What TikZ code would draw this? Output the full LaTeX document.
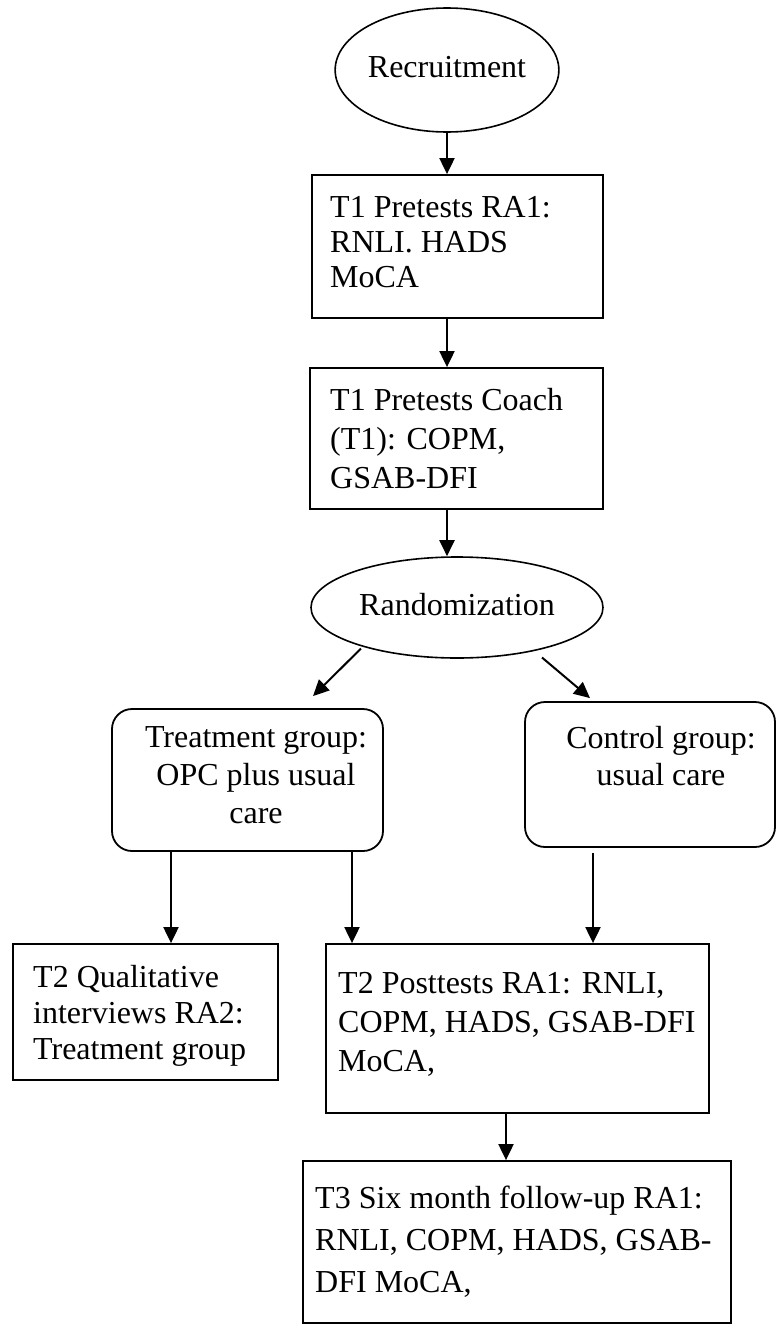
\documentclass[tikz,border=0pt]{standalone}
\usepackage{fontspec}
\setmainfont{Liberation Serif}
\usetikzlibrary{arrows.meta,shapes.geometric,calc}
\newcommand\LL[2]{\vtop{\baselineskip=#1pt\lineskip=0pt\lineskiplimit=-100pt\halign{##\hfil\cr#2\crcr}}}
\newcommand\CC[2]{\vtop{\baselineskip=#1pt\lineskip=0pt\lineskiplimit=-100pt\halign{\hfil##\hfil\cr#2\crcr}}}
\begin{document}
\begin{tikzpicture}[x=1pt,y=-1pt,
  font=\fontsize{32}{38}\selectfont,
  box/.style={draw, line width=1.8pt, rectangle, inner sep=0pt},
  rbox/.style={box, rounded corners=20pt},
  oval/.style={draw, ellipse, line width=1.6pt, inner sep=0pt, text height=21pt, text depth=6pt},
  txt/.style={inner sep=0pt, anchor=base west},
  ctxt/.style={inner sep=0pt, anchor=base},
  arr/.style={line width=2pt, -{Triangle[width=15pt,length=16pt]}}]
\useasboundingbox (0,0) rectangle (776,1325);

% shapes
\node[oval, minimum width=213pt, minimum height=124pt] (rec) at (447,70) {Recruitment};
\node[box, minimum width=291pt, minimum height=143pt] (b1) at (457.5,246.5) {};
\node[box, minimum width=293pt, minimum height=141pt] (b2) at (456.5,438.5) {};
\node[oval, minimum width=292pt, minimum height=101pt] (rand) at (457,607.5) {Randomization};
\node[rbox, minimum width=271pt, minimum height=142pt] (treat) at (247.5,780) {};
\node[rbox, minimum width=250pt, minimum height=145pt] (ctrl) at (650,774.5) {};
\node[box, minimum width=265pt, minimum height=136pt] (qual) at (145.5,1012) {};
\node[box, minimum width=383pt, minimum height=169pt] (post) at (517.5,1028.5) {};
\node[box, minimum width=428pt, minimum height=162pt] (t3) at (517,1242) {};

% texts
\node[txt] (t1txt) at (330,217) {\LL{35}{T1 Pretests RA1:\cr RNLI. HADS\cr MoCA}};
\node[txt] (t2txt) at (330,410) {\LL{39}{T1 Pretests Coach\cr (T1): COPM,\cr GSAB-DFI}};
\node[ctxt] (treattxt) at (256,747) {\CC{38}{Treatment group:\cr OPC plus usual\cr care}};
\node[ctxt] (ctrltxt) at (661,748) {\CC{37}{Control group:\cr usual care}};
\node[txt] (qualtxt) at (33,987) {\LL{36}{T2 Qualitative\cr interviews RA2:\cr Treatment group}};
\node[txt] (posttxt) at (338,993) {\LL{39}{T2 Posttests RA1: RNLI,\cr COPM, HADS, GSAB-DFI\cr MoCA,}};
\node[txt] (t3txt) at (315,1208) {\LL{42}{T3 Six month follow-up RA1:\cr RNLI, COPM, HADS, GSAB-\cr DFI MoCA,}};

% connectors
\draw[arr] (rec.south) -- (rec.south |- b1.north);
\coordinate (a2) at (b1.south -| rec.south);
\draw[arr] (a2) -- (a2 |- b2.north);
\coordinate (a3) at (b2.south -| rec.south);
\draw[arr] (a3) -- (a3 |- rand.north);
\coordinate (l1) at ($(rand.center)+(-96,41)$);
\coordinate (l2) at ($(treat.north)+(65.5,-12)$);
\draw[arr] (l1) -- (l2);
\coordinate (r1) at ($(rand.center)+(85,50)$);
\coordinate (r2) at ($(ctrl.north)+(-60,-3)$);
\draw[arr] (r1) -- (r2);
\coordinate (tq) at ($(treat.south)+(-76.5,0)$);
\draw[arr] (tq) -- (tq |- qual.north);
\coordinate (tp) at ($(treat.south)+(104.5,0)$);
\draw[arr] (tp) -- (tp |- post.north);
\coordinate (cp) at ($(ctrl.south)+(-57,5)$);
\draw[arr] (cp) -- (cp |- post.north);
\coordinate (pt) at ($(post.south)+(-11.5,0)$);
\draw[arr] (pt) -- (pt |- t3.north);
\end{tikzpicture}
\end{document}
